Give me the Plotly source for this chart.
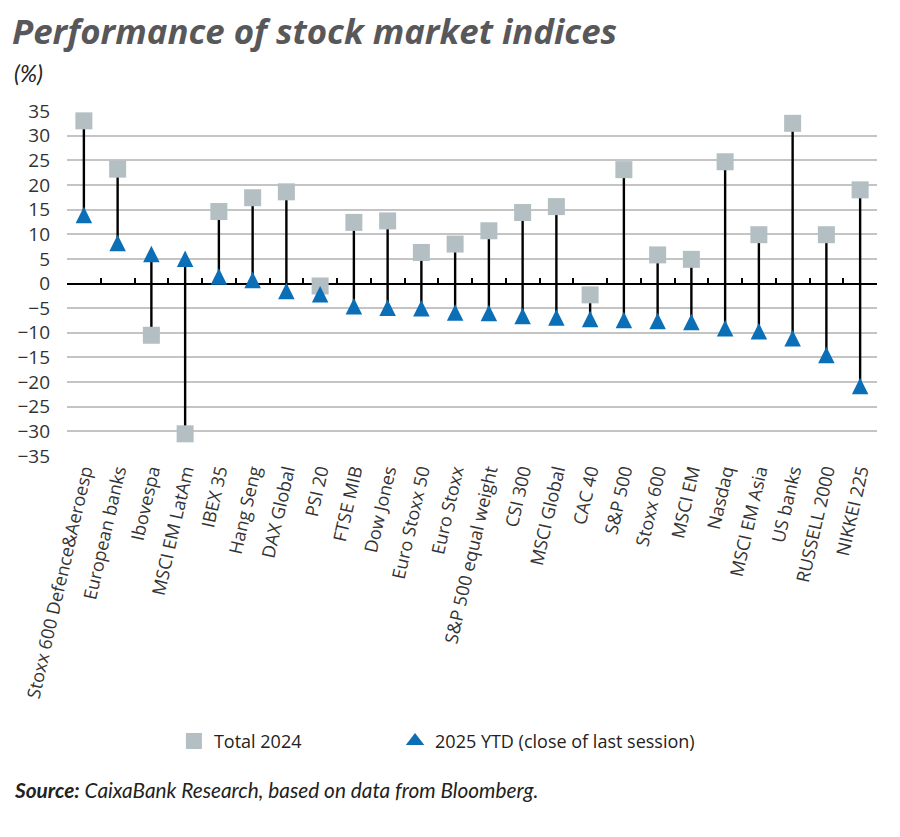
import plotly.graph_objects as go

categories = ["Stoxx 600 Defence&Aeroesp", "European banks", "Ibovespa", "MSCI EM LatAm",
              "IBEX 35", "Hang Seng", "DAX Global", "PSI 20", "FTSE MIB", "Dow Jones",
              "Euro Stoxx 50", "Euro Stoxx", "S&P 500 equal weight", "CSI 300", "MSCI Global",
              "CAC 40", "S&P 500", "Stoxx 600", "MSCI EM", "Nasdaq", "MSCI EM Asia",
              "US banks", "RUSSELL 2000", "NIKKEI 225"]
total_2024 = [33.0, 23.2, -10.5, -30.5, 14.6, 17.4, 18.6, -0.5, 12.4, 12.7,
              6.3, 8.0, 10.7, 14.4, 15.6, -2.3, 23.1, 5.8, 4.9, 24.7,
              9.9, 32.5, 9.9, 19.0]
ytd_2025 = [13.9, 8.2, 6.0, 5.0, 1.4, 0.7, -1.5, -2.2, -4.6, -4.9,
            -5.0, -5.9, -6.0, -6.6, -6.9, -7.2, -7.4, -7.6, -7.8, -9.1,
            -9.7, -11.1, -14.5, -20.8]
y_ticks = list(range(-35, 40, 5))

n = len(categories)
TXT = "#333333"
TRI = 16.5
BLUE = "#0a6fb7"
GREY = "#b4bfc3"
NAME_2025 = "2025 YTD (close of last session)"

# connecting segments
seg_x, seg_y = [], []
for c, a, b in zip(categories, total_2024, ytd_2025):
    seg_x += [c, c, c]
    seg_y += [a, b, None]

fig = go.Figure()
fig.add_trace(go.Scatter(x=seg_x, y=seg_y, mode="lines", line=dict(color="black", width=2.4),
                         showlegend=False, hoverinfo="skip", connectgaps=False))
fig.add_trace(go.Scatter(x=categories, y=total_2024, mode="markers", name="Total 2024",
                         legend="legend",
                         marker=dict(symbol="square", size=17, color=GREY)))
fig.add_trace(go.Scatter(x=categories, y=ytd_2025, mode="markers",
                         name=NAME_2025, showlegend=False,
                         marker=dict(symbol="arrow-down", angle=180, size=TRI, standoff=TRI / 2,
                                     color=BLUE, line=dict(width=0))))
# legend-only entry for the triangle series
fig.add_trace(go.Scatter(x=[None], y=[None], mode="markers", name=NAME_2025, legend="legend2",
                         marker=dict(symbol="triangle-up", size=16, color=BLUE),
                         hoverinfo="skip"))
# dummy trace for boundary-tick axis
fig.add_trace(go.Scatter(x=[None], y=[None], xaxis="x2", showlegend=False, hoverinfo="skip"))

leg_common = dict(orientation="h", y=-0.827, yanchor="middle", xanchor="left",
                  font=dict(size=18, color="#222222"), bgcolor="rgba(0,0,0,0)")

fig.update_layout(
    width=900, height=837,
    margin=dict(l=67, r=23, t=111, b=381),
    plot_bgcolor="white", paper_bgcolor="white",
    font=dict(family="Open Sans", color=TXT),
    xaxis=dict(type="category", range=[-0.5, n - 0.5], tickangle=-77,
               tickfont=dict(size=18, color=TXT), showgrid=False, zeroline=False,
               showline=False, ticks=""),
    xaxis2=dict(overlaying="x", anchor="free", position=0.5, range=[-0.5, n - 0.5],
                tickvals=[i - 0.5 for i in range(n + 1)], ticks="inside", ticklen=6,
                tickwidth=1.5, tickcolor="black", showticklabels=False, showgrid=False,
                zeroline=False, showline=False),
    yaxis=dict(range=[-35, 35], tickvals=y_ticks, showgrid=True, gridcolor="#c4c4c4",
               gridwidth=1.5, zeroline=True, zerolinecolor="black", zerolinewidth=2,
               showline=False, ticks="", ticklabelstandoff=16,
               tickfont=dict(size=19, color=TXT)),
    legend=dict(x=0.132, **leg_common),
    legend2=dict(x=0.405, **leg_common),
    annotations=[
        dict(text="<b><i>Performance of stock market indices</i></b>", xref="paper", yref="paper",
             x=-0.07, y=1.232, xanchor="left", yanchor="middle", showarrow=False,
             font=dict(family="Open Sans", size=34.8, color="#58585a")),
        dict(text="<i>(%)</i>", xref="paper", yref="paper", x=-0.068, y=1.109,
             xanchor="left", yanchor="middle", showarrow=False,
             font=dict(family="Lato", size=23, color="#222222")),
        dict(text="<b><i>Source:</i></b><i> CaixaBank Research, based on data from Bloomberg.</i>",
             xref="paper", yref="paper", x=-0.068, y=-0.966, xanchor="left", yanchor="middle",
             showarrow=False, font=dict(family="Lato", size=20.8, color="#222222")),
    ],
)

fig.write_html("out.html", config={"displayModeBar": False})
with open("out.html", "r", encoding="utf-8") as f:
    html = f.read()
html = html.replace("<body>", '<body style="margin:0;padding:0;">', 1)
with open("out.html", "w", encoding="utf-8") as f:
    f.write(html)
